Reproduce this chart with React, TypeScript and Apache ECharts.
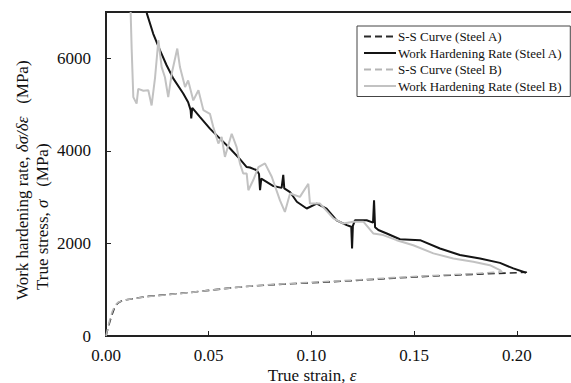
import React, { useEffect, useRef } from "react";
import * as echarts from "echarts";

// Tick values
const xTicks = [0, 0.05, 0.1, 0.15, 0.2];
const xMax = 0.25;
const yTicks = [0, 2000, 4000, 6000];

// S-S Curve (Steel A)
const ssAStrain = [0, 0.001, 0.002, 0.003, 0.004, 0.005, 0.006, 0.008, 0.01, 0.02, 0.03, 0.04, 0.05, 0.06, 0.07, 0.08, 0.09, 0.1, 0.12, 0.14, 0.16, 0.18, 0.2, 0.205];
const ssAStress = [0, 170, 330, 470, 590, 670, 720, 765, 785, 855, 895, 935, 985, 1035, 1075, 1105, 1128, 1150, 1195, 1250, 1298, 1335, 1366, 1378];

// S-S Curve (Steel B)
const ssBStrain = [0, 0.001, 0.002, 0.003, 0.004, 0.005, 0.006, 0.008, 0.01, 0.02, 0.03, 0.04, 0.05, 0.06, 0.07, 0.08, 0.09, 0.1, 0.12, 0.14, 0.16, 0.18, 0.193];
const ssBStress = [0, 200, 380, 520, 620, 690, 730, 765, 785, 850, 892, 935, 985, 1035, 1078, 1110, 1135, 1160, 1205, 1262, 1308, 1350, 1385];

// Work Hardening Rate (Steel A)
const whrAStrain = [0.0198, 0.023, 0.0263, 0.0295, 0.0328, 0.0376, 0.04, 0.0412, 0.0415, 0.042, 0.0458, 0.0506, 0.0555, 0.0604, 0.0652, 0.0685, 0.0701, 0.0734, 0.0745, 0.075, 0.0756, 0.0815, 0.0855, 0.0863, 0.0868, 0.0896, 0.0929, 0.0977, 0.1026, 0.1074, 0.1123, 0.1172, 0.1194, 0.1198, 0.1202, 0.1212, 0.1269, 0.13, 0.1305, 0.131, 0.1326, 0.1367, 0.1431, 0.1529, 0.1626, 0.1723, 0.1821, 0.1918, 0.1983, 0.2045];
const whrAValue = [6980, 6530, 6170, 5850, 5560, 5240, 5050, 4880, 4700, 4930, 4730, 4480, 4265, 4050, 3820, 3650, 3640, 3580, 3500, 3150, 3400, 3240, 3200, 3480, 3190, 3110, 2900, 2755, 2860, 2750, 2500, 2395, 2360, 1890, 2380, 2500, 2500, 2450, 2930, 2350, 2290, 2215, 2090, 2070, 1890, 1750, 1675, 1580, 1460, 1365];

// Work Hardening Rate (Steel B)
const whrBStrain = [0.012, 0.0125, 0.0133, 0.0149, 0.0157, 0.0182, 0.0206, 0.0222, 0.0239, 0.0255, 0.0271, 0.0287, 0.0303, 0.032, 0.0347, 0.036, 0.0385, 0.04, 0.0425, 0.045, 0.0474, 0.0506, 0.0522, 0.0547, 0.0563, 0.0579, 0.0612, 0.0636, 0.0652, 0.0668, 0.0685, 0.0693, 0.0717, 0.0742, 0.0774, 0.0807, 0.0847, 0.0871, 0.0896, 0.0944, 0.0985, 0.0993, 0.1042, 0.1107, 0.1155, 0.1204, 0.1253, 0.1301, 0.135, 0.1415, 0.1496, 0.1594, 0.1691, 0.1788, 0.1869, 0.1918, 0.1926];
const whrBValue = [7000, 6200, 5160, 5020, 5340, 5300, 5310, 4980, 5590, 6390, 5810, 5590, 5160, 5670, 6210, 5810, 5380, 5520, 5090, 5310, 4880, 4800, 4520, 4160, 4300, 3870, 4370, 4080, 3730, 3510, 3510, 3150, 3370, 3650, 3730, 3440, 2930, 2680, 3080, 3005, 3290, 2860, 2860, 2540, 2430, 2470, 2470, 2215, 2180, 2070, 1960, 1785, 1675, 1605, 1530, 1425, 1388];

const seriesNames = [
  "S-S Curve (Steel A)",
  "Work Hardening Rate (Steel A)",
  "S-S Curve (Steel B)",
  "Work Hardening Rate (Steel B)",
];

const zip = (xs: number[], ys: number[]) => xs.map((x, i) => [x, ys[i]]);

const FONT = "Liberation Serif, DejaVu Serif, serif";

export default function App() {
  const ref = useRef<HTMLDivElement>(null);
  useEffect(() => {
    if (!ref.current) return;
    const chart = echarts.init(ref.current, undefined, { renderer: "svg" });
    const option: any = {
      animation: false,
      backgroundColor: "#fff",
      textStyle: { fontFamily: FONT },
      grid: {
        left: 106,
        top: 12,
        right: -48.5,
        bottom: 47,
        containLabel: false,
        outerBoundsMode: "none",
        show: true,
        borderColor: "#222",
        borderWidth: 2,
        backgroundColor: "transparent",
      },
      legend: {
        orient: "vertical",
        left: 357,
        top: 26,
        padding: [4, 8, 4, 6],
        itemWidth: 32,
        itemHeight: 14,
        itemGap: 3.5,
        backgroundColor: "#fff",
        borderColor: "#444",
        borderWidth: 1,
        borderRadius: 0,
        data: seriesNames,
        itemStyle: { color: "transparent", borderWidth: 0, opacity: 0 },
        textStyle: { fontFamily: FONT, fontSize: 13, color: "#111", padding: [0, 0, 0, -3] },
      },
      xAxis: {
        type: "value",
        min: xTicks[0],
        max: xMax,
        interval: 0.05,
        axisLine: { show: true, lineStyle: { color: "#222", width: 2 } },
        axisTick: { show: true, inside: true, length: 5, lineStyle: { color: "#222", width: 1 } },
        axisLabel: {
          fontFamily: FONT,
          fontSize: 17,
          color: "#111",
          margin: 11,
          formatter: (v: number) =>
            xTicks.some((t) => Math.abs(t - v) < 1e-9) ? v.toFixed(2) : "",
        },
        splitLine: { show: false },
      },
      yAxis: {
        type: "value",
        min: 0,
        max: 7000,
        interval: 2000,
        axisLine: { show: true, lineStyle: { color: "#222", width: 2 } },
        axisTick: { show: true, inside: true, length: 5, lineStyle: { color: "#222", width: 1 } },
        axisLabel: {
          fontFamily: FONT,
          fontSize: 17,
          color: "#111",
          margin: 15,
          formatter: (v: number) => (yTicks.includes(v) ? String(v) : ""),
        },
        splitLine: { show: false },
      },
      graphic: [
        {
          type: "text",
          x: 22,
          y: 300,
          rotation: Math.PI / 2,
          style: {
            text: "Work hardening rate, {i|δσ/δε}   (MPa)",
            fontFamily: FONT,
            fontSize: 17,
            fill: "#111",
            align: "left",
            verticalAlign: "middle",
            rich: { i: { fontFamily: FONT, fontStyle: "italic", fontSize: 17, fill: "#111" } },
          },
        },
        {
          type: "text",
          x: 42,
          y: 290,
          rotation: Math.PI / 2,
          style: {
            text: "True stress, {i|σ}   (MPa)",
            fontFamily: FONT,
            fontSize: 17,
            fill: "#111",
            align: "left",
            verticalAlign: "middle",
            rich: { i: { fontFamily: FONT, fontStyle: "italic", fontSize: 17, fill: "#111" } },
          },
        },
        {
          type: "text",
          x: 312,
          y: 375,
          style: {
            text: "True strain, {i|ε}",
            fontFamily: FONT,
            fontSize: 17,
            fill: "#111",
            align: "center",
            verticalAlign: "middle",
            rich: { i: { fontFamily: FONT, fontStyle: "italic", fontSize: 17, fill: "#111" } },
          },
        },
      ],
      series: [
        {
          name: seriesNames[0],
          type: "line",
          data: zip(ssAStrain, ssAStress),
          showSymbol: false,
          symbol: "none",
          clip: true,
          lineStyle: { color: "#2a2a2a", width: 1.6, type: [7, 4] },
          itemStyle: { color: "#2a2a2a" },
        },
        {
          name: seriesNames[1],
          type: "line",
          data: zip(whrAStrain, whrAValue),
          showSymbol: false,
          symbol: "none",
          clip: true,
          lineStyle: { color: "#141414", width: 2 },
          itemStyle: { color: "#141414" },
        },
        {
          name: seriesNames[2],
          type: "line",
          data: zip(ssBStrain, ssBStress),
          showSymbol: false,
          symbol: "none",
          clip: true,
          lineStyle: { color: "#b5b5b5", width: 1.6, type: [7, 4] },
          itemStyle: { color: "#b5b5b5" },
        },
        {
          name: seriesNames[3],
          type: "line",
          data: zip(whrBStrain, whrBValue),
          showSymbol: false,
          symbol: "none",
          clip: true,
          lineStyle: { color: "#c2c2c2", width: 2 },
          itemStyle: { color: "#c2c2c2" },
        },
      ],
    };
    chart.setOption(option);
    return () => chart.dispose();
  }, []);
  return (
    <div
      ref={ref}
      style={{ position: "fixed", left: 0, top: 0, width: 571, height: 383, background: "#fff" }}
    />
  );
}
